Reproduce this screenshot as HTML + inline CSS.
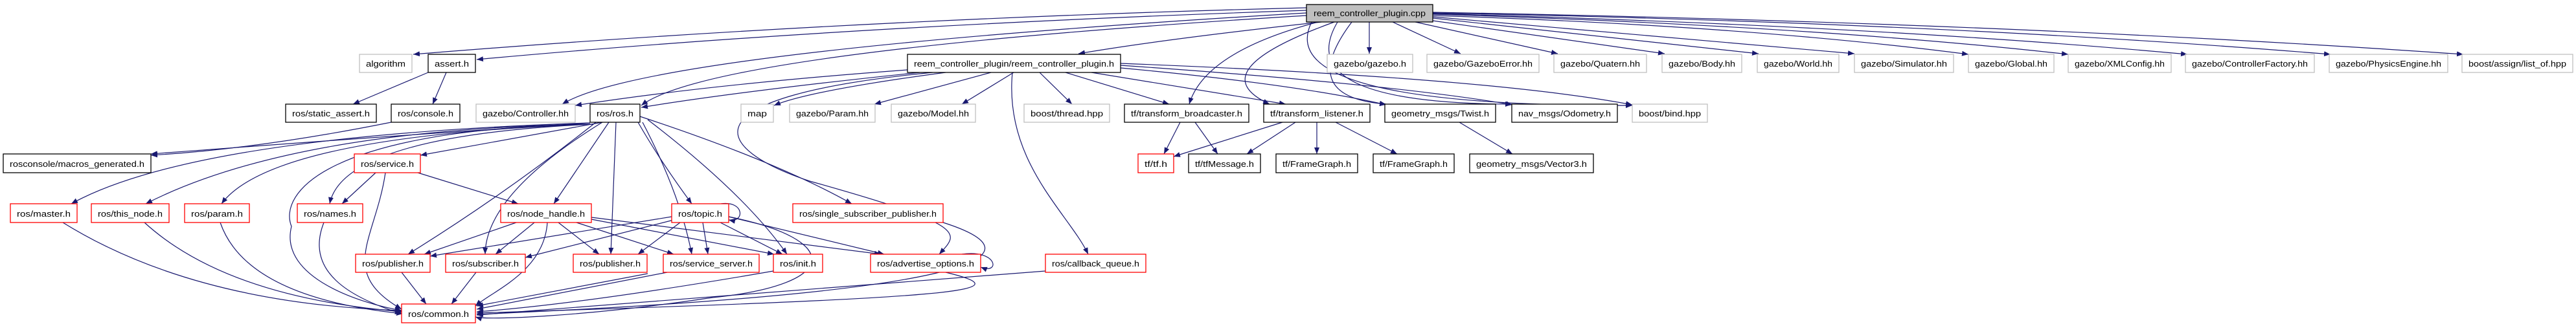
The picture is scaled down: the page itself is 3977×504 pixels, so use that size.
<!DOCTYPE html>
<html><head><meta charset="utf-8"><style>
html,body{margin:0;padding:0;background:#fff;}
svg{display:block;}
text{font-family:"Liberation Sans",sans-serif;font-size:13px;fill:#000;}
.g{fill:#fff;stroke:#bfbfbf;stroke-width:1.3}
.b{fill:#fff;stroke:#000;stroke-width:1.3}
.r{fill:#fff;stroke:#ff0000;stroke-width:1.3}
.e{fill:none;stroke:#191970;stroke-width:1.2;marker-end:url(#a)}
</style></head><body>
<svg width="3977" height="504" viewBox="0 0 3977 504" xmlns="http://www.w3.org/2000/svg">
<defs><marker id="a" markerUnits="userSpaceOnUse" markerWidth="11" markerHeight="8" refX="10" refY="4" orient="auto"><path d="M0,0 L10,4 L0,8 z" fill="#191970"/></marker></defs>
<g>
<!-- cpp edges -->
<path class="e" d="M2017 12 Q1300 30 638 84"/>
<path class="e" d="M2017 16 Q1300 40 736 92"/>
<path class="e" d="M2040 34 Q1800 60 1665 83"/>
<path class="e" d="M2017 20 Q1000 80 868 161"/>
<path class="e" d="M2017 24 Q1100 80 990 163"/>
<path class="e" d="M2114 34 L2114 83"/>
<path class="e" d="M2150 34 L2255 83"/>
<path class="e" d="M2185 34 L2405 83"/>
<path class="e" d="M2212 32 L2570 83"/>
<path class="e" d="M2212 28 L2715 83"/>
<path class="e" d="M2212 26 L2863 83"/>
<path class="e" d="M2212 24 Q2700 40 3039 84"/>
<path class="e" d="M2212 22 Q2800 40 3193 84"/>
<path class="e" d="M2212 21 Q2900 40 3377 84"/>
<path class="e" d="M2212 20 Q3000 35 3598 84"/>
<path class="e" d="M2212 19 Q3100 35 3803 84"/>
<path class="e" d="M2035 34 Q1860 80 1836 161"/>
<path class="e" d="M2060 34 Q1850 110 1960 161"/>
<path class="e" d="M2087 34 Q2000 150 2140 161"/>
<path class="e" d="M2065 34 Q1990 160 2334 161"/>
<path class="e" d="M2025 34 Q1960 165 2520 163"/>
<!-- reem.h edges -->
<path class="e" d="M1401 108 Q1100 130 888 163"/>
<path class="e" d="M1420 112 Q1150 140 990 166"/>
<path class="e" d="M1460 112 Q1250 140 1195 163"/>
<path class="e" d="M1530 112 L1350 161"/>
<path class="e" d="M1565 112 L1485 161"/>
<path class="e" d="M1605 112 L1655 161"/>
<path class="e" d="M1645 112 L1805 161"/>
<path class="e" d="M1685 112 L1985 161"/>
<path class="e" d="M1730 105 Q2000 130 2140 162"/>
<path class="e" d="M1730 101 Q2150 130 2335 162"/>
<path class="e" d="M1730 98 Q2300 120 2520 162"/>
<path class="e" d="M1440 112 C1050 150 1100 230 1250 280 C1500 350 1480 360 1450 393"/>
<path class="e" d="M1563 112 C1550 250 1650 330 1680 393"/>
<!-- ros.h edges -->
<path class="e" d="M911 190 Q600 210 233 238"/>
<path class="e" d="M911 190 Q300 210 110 315"/>
<path class="e" d="M911 192 Q450 200 225 315"/>
<path class="e" d="M915 192 Q420 210 342 315"/>
<path class="e" d="M915 192 Q530 210 509 315"/>
<path class="e" d="M912 192 C500 200 430 300 450 350 C430 430 560 470 620 480"/>
<path class="e" d="M930 189 L649 240"/>
<path class="e" d="M940 189 L855 315"/>
<path class="e" d="M920 189 Q780 300 630 393"/>
<path class="e" d="M930 189 Q750 300 749 393"/>
<path class="e" d="M951 189 L943 393"/>
<path class="e" d="M985 189 Q1020 250 1068 315"/>
<path class="e" d="M992 189 Q1050 300 1068 393"/>
<path class="e" d="M1000 185 Q1150 300 1215 393"/>
<path class="e" d="M988 180 Q1200 250 1315 315"/>
<!-- misc -->
<path class="e" d="M604 189 Q400 230 233 240"/>
<path class="e" d="M661 112 L545 161"/>
<path class="e" d="M689 112 L668 161"/>
<path class="e" d="M580 267 L528 315"/>
<path class="e" d="M645 267 L800 315"/>
<path class="e" d="M595 267 C580 370 520 420 620 478"/>
<path class="e" d="M97 344 Q300 470 620 480"/>
<path class="e" d="M223 344 Q350 460 622 482"/>
<path class="e" d="M340 344 Q380 460 622 485"/>
<path class="e" d="M500 344 C470 420 540 460 620 485"/>
<path class="e" d="M797 344 L655 393"/>
<path class="e" d="M825 344 L765 393"/>
<path class="e" d="M862 344 L925 393"/>
<path class="e" d="M890 344 L1040 393"/>
<path class="e" d="M913 339 L1195 393"/>
<path class="e" d="M913 336 L1360 393"/>
<path class="e" d="M845 344 C840 420 760 450 734 473"/>
<path class="e" d="M1113 315 C1150 310 1150 345 1125 340"/>
<path class="e" d="M1037 335 L664 396"/>
<path class="e" d="M1040 340 L811 398"/>
<path class="e" d="M1050 344 L985 393"/>
<path class="e" d="M1085 344 L1093 393"/>
<path class="e" d="M1112 344 L1208 393"/>
<path class="e" d="M1125 335 L1365 393"/>
<path class="e" d="M1125 335 C1300 370 1300 440 1100 460 C900 490 750 495 734 490"/>
<path class="e" d="M620 421 L658 470"/>
<path class="e" d="M735 421 L697 470"/>
<path class="e" d="M1000 423 L736 473"/>
<path class="e" d="M1030 421 L736 478"/>
<path class="e" d="M1194 419 Q900 470 736 482"/>
<path class="e" d="M1460 421 C1580 450 1500 460 736 484"/>
<path class="e" d="M1485 393 C1540 385 1545 425 1514 413"/>
<path class="e" d="M1456 344 C1600 390 1560 450 736 486"/>
<path class="e" d="M1614 419 L736 487"/>
<path class="e" d="M1822 189 L1797 238"/>
<path class="e" d="M1845 189 L1880 238"/>
<path class="e" d="M1980 189 L1812 242"/>
<path class="e" d="M2000 189 L1925 238"/>
<path class="e" d="M2033 189 L2033 238"/>
<path class="e" d="M2062 189 L2157 238"/>
<path class="e" d="M2253 189 L2335 238"/>
</g>
<g>
<rect x="2017" y="7" width="195" height="27" fill="#bfbfbf" stroke="#000" stroke-width="1.3"/><text x="2114.5" y="25" text-anchor="middle" textLength="173" lengthAdjust="spacingAndGlyphs">reem_controller_plugin.cpp</text>
<!-- row1 -->
<rect class="g" x="555" y="84" width="81" height="28"/><text x="595.5" y="103" text-anchor="middle" textLength="61" lengthAdjust="spacingAndGlyphs">algorithm</text>
<rect class="b" x="661" y="84" width="73" height="28"/><text x="697.5" y="103" text-anchor="middle" textLength="53" lengthAdjust="spacingAndGlyphs">assert.h</text>
<rect class="b" x="1401" y="84" width="329" height="28"/><text x="1565.5" y="103" text-anchor="middle" textLength="309" lengthAdjust="spacingAndGlyphs">reem_controller_plugin/reem_controller_plugin.h</text>
<rect class="g" x="2049" y="84" width="132" height="28"/><text x="2115" y="103" text-anchor="middle" textLength="112" lengthAdjust="spacingAndGlyphs">gazebo/gazebo.h</text>
<rect class="g" x="2203" y="84" width="173" height="28"/><text x="2289.5" y="103" text-anchor="middle" textLength="153" lengthAdjust="spacingAndGlyphs">gazebo/GazeboError.hh</text>
<rect class="g" x="2399" y="84" width="143" height="28"/><text x="2470.5" y="103" text-anchor="middle" textLength="123" lengthAdjust="spacingAndGlyphs">gazebo/Quatern.hh</text>
<rect class="g" x="2566" y="84" width="123" height="28"/><text x="2627.5" y="103" text-anchor="middle" textLength="103" lengthAdjust="spacingAndGlyphs">gazebo/Body.hh</text>
<rect class="g" x="2713" y="84" width="126" height="28"/><text x="2776" y="103" text-anchor="middle" textLength="106" lengthAdjust="spacingAndGlyphs">gazebo/World.hh</text>
<rect class="g" x="2863" y="84" width="153" height="28"/><text x="2939.5" y="103" text-anchor="middle" textLength="133" lengthAdjust="spacingAndGlyphs">gazebo/Simulator.hh</text>
<rect class="g" x="3039" y="84" width="132" height="28"/><text x="3105" y="103" text-anchor="middle" textLength="112" lengthAdjust="spacingAndGlyphs">gazebo/Global.hh</text>
<rect class="g" x="3193" y="84" width="159" height="28"/><text x="3272.5" y="103" text-anchor="middle" textLength="139" lengthAdjust="spacingAndGlyphs">gazebo/XMLConfig.hh</text>
<rect class="g" x="3374" y="84" width="199" height="28"/><text x="3473.5" y="103" text-anchor="middle" textLength="179" lengthAdjust="spacingAndGlyphs">gazebo/ControllerFactory.hh</text>
<rect class="g" x="3596" y="84" width="183" height="28"/><text x="3687.5" y="103" text-anchor="middle" textLength="163" lengthAdjust="spacingAndGlyphs">gazebo/PhysicsEngine.hh</text>
<rect class="g" x="3801" y="84" width="171" height="28"/><text x="3886.5" y="103" text-anchor="middle" textLength="151" lengthAdjust="spacingAndGlyphs">boost/assign/list_of.hpp</text>
<!-- row2 -->
<rect class="b" x="441" y="161" width="140" height="28"/><text x="511" y="180" text-anchor="middle" textLength="120" lengthAdjust="spacingAndGlyphs">ros/static_assert.h</text>
<rect class="b" x="604" y="161" width="106" height="28"/><text x="657" y="180" text-anchor="middle" textLength="86" lengthAdjust="spacingAndGlyphs">ros/console.h</text>
<rect class="g" x="735" y="161" width="153" height="28"/><text x="811.5" y="180" text-anchor="middle" textLength="133" lengthAdjust="spacingAndGlyphs">gazebo/Controller.hh</text>
<rect class="b" x="911" y="161" width="77" height="28"/><text x="949.5" y="180" text-anchor="middle" textLength="57" lengthAdjust="spacingAndGlyphs">ros/ros.h</text>
<rect class="g" x="1144" y="161" width="50" height="28"/><text x="1169" y="180" text-anchor="middle" textLength="30" lengthAdjust="spacingAndGlyphs">map</text>
<rect class="g" x="1219" y="161" width="132" height="28"/><text x="1285" y="180" text-anchor="middle" textLength="112" lengthAdjust="spacingAndGlyphs">gazebo/Param.hh</text>
<rect class="g" x="1376" y="161" width="130" height="28"/><text x="1441" y="180" text-anchor="middle" textLength="110" lengthAdjust="spacingAndGlyphs">gazebo/Model.hh</text>
<rect class="g" x="1581" y="161" width="132" height="28"/><text x="1647" y="180" text-anchor="middle" textLength="112" lengthAdjust="spacingAndGlyphs">boost/thread.hpp</text>
<rect class="b" x="1736" y="161" width="192" height="28"/><text x="1832" y="180" text-anchor="middle" textLength="172" lengthAdjust="spacingAndGlyphs">tf/transform_broadcaster.h</text>
<rect class="b" x="1951" y="161" width="164" height="28"/><text x="2033" y="180" text-anchor="middle" textLength="144" lengthAdjust="spacingAndGlyphs">tf/transform_listener.h</text>
<rect class="b" x="2138" y="161" width="171" height="28"/><text x="2223.5" y="180" text-anchor="middle" textLength="151" lengthAdjust="spacingAndGlyphs">geometry_msgs/Twist.h</text>
<rect class="b" x="2334" y="161" width="163" height="28"/><text x="2415.5" y="180" text-anchor="middle" textLength="143" lengthAdjust="spacingAndGlyphs">nav_msgs/Odometry.h</text>
<rect class="g" x="2520" y="161" width="116" height="28"/><text x="2578" y="180" text-anchor="middle" textLength="96" lengthAdjust="spacingAndGlyphs">boost/bind.hpp</text>
<!-- row3 -->
<rect class="b" x="5" y="238" width="228" height="29"/><text x="119" y="258" text-anchor="middle" textLength="208" lengthAdjust="spacingAndGlyphs">rosconsole/macros_generated.h</text>
<rect class="r" x="547" y="238" width="102" height="29"/><text x="598" y="258" text-anchor="middle" textLength="82" lengthAdjust="spacingAndGlyphs">ros/service.h</text>
<rect class="r" x="1757" y="238" width="55" height="29"/><text x="1784.5" y="258" text-anchor="middle" textLength="35" lengthAdjust="spacingAndGlyphs">tf/tf.h</text>
<rect class="b" x="1835" y="238" width="111" height="29"/><text x="1890.5" y="258" text-anchor="middle" textLength="91" lengthAdjust="spacingAndGlyphs">tf/tfMessage.h</text>
<rect class="b" x="1970" y="238" width="126" height="29"/><text x="2033" y="258" text-anchor="middle" textLength="106" lengthAdjust="spacingAndGlyphs">tf/FrameGraph.h</text>
<rect class="b" x="2120" y="238" width="125" height="29"/><text x="2182.5" y="258" text-anchor="middle" textLength="105" lengthAdjust="spacingAndGlyphs">tf/FrameGraph.h</text>
<rect class="b" x="2269" y="238" width="191" height="29"/><text x="2364.5" y="258" text-anchor="middle" textLength="171" lengthAdjust="spacingAndGlyphs">geometry_msgs/Vector3.h</text>
<!-- row4 -->
<rect class="r" x="16" y="315" width="103" height="29"/><text x="67.5" y="335" text-anchor="middle" textLength="83" lengthAdjust="spacingAndGlyphs">ros/master.h</text>
<rect class="r" x="141" y="315" width="120" height="29"/><text x="201" y="335" text-anchor="middle" textLength="100" lengthAdjust="spacingAndGlyphs">ros/this_node.h</text>
<rect class="r" x="285" y="315" width="100" height="29"/><text x="335" y="335" text-anchor="middle" textLength="80" lengthAdjust="spacingAndGlyphs">ros/param.h</text>
<rect class="r" x="459" y="315" width="101" height="29"/><text x="509.5" y="335" text-anchor="middle" textLength="81" lengthAdjust="spacingAndGlyphs">ros/names.h</text>
<rect class="r" x="773" y="315" width="140" height="29"/><text x="843" y="335" text-anchor="middle" textLength="120" lengthAdjust="spacingAndGlyphs">ros/node_handle.h</text>
<rect class="r" x="1037" y="315" width="88" height="29"/><text x="1081" y="335" text-anchor="middle" textLength="68" lengthAdjust="spacingAndGlyphs">ros/topic.h</text>
<rect class="r" x="1224" y="315" width="232" height="29"/><text x="1340" y="335" text-anchor="middle" textLength="212" lengthAdjust="spacingAndGlyphs">ros/single_subscriber_publisher.h</text>
<!-- row5 -->
<rect class="r" x="549" y="393" width="115" height="28"/><text x="606.5" y="412" text-anchor="middle" textLength="95" lengthAdjust="spacingAndGlyphs">ros/publisher.h</text>
<rect class="r" x="688" y="393" width="123" height="28"/><text x="749.5" y="412" text-anchor="middle" textLength="103" lengthAdjust="spacingAndGlyphs">ros/subscriber.h</text>
<rect class="r" x="885" y="393" width="114" height="28"/><text x="942" y="412" text-anchor="middle" textLength="94" lengthAdjust="spacingAndGlyphs">ros/publisher.h</text>
<rect class="r" x="1024" y="393" width="148" height="28"/><text x="1098" y="412" text-anchor="middle" textLength="128" lengthAdjust="spacingAndGlyphs">ros/service_server.h</text>
<rect class="r" x="1194" y="393" width="76" height="28"/><text x="1232" y="412" text-anchor="middle" textLength="56" lengthAdjust="spacingAndGlyphs">ros/init.h</text>
<rect class="r" x="1344" y="393" width="170" height="28"/><text x="1429" y="412" text-anchor="middle" textLength="150" lengthAdjust="spacingAndGlyphs">ros/advertise_options.h</text>
<rect class="r" x="1614" y="393" width="155" height="28"/><text x="1691.5" y="412" text-anchor="middle" textLength="135" lengthAdjust="spacingAndGlyphs">ros/callback_queue.h</text>
<!-- row6 -->
<rect class="r" x="620" y="470" width="114" height="29"/><text x="677" y="490" text-anchor="middle" textLength="94" lengthAdjust="spacingAndGlyphs">ros/common.h</text>
</g>
</svg>
</body></html>
